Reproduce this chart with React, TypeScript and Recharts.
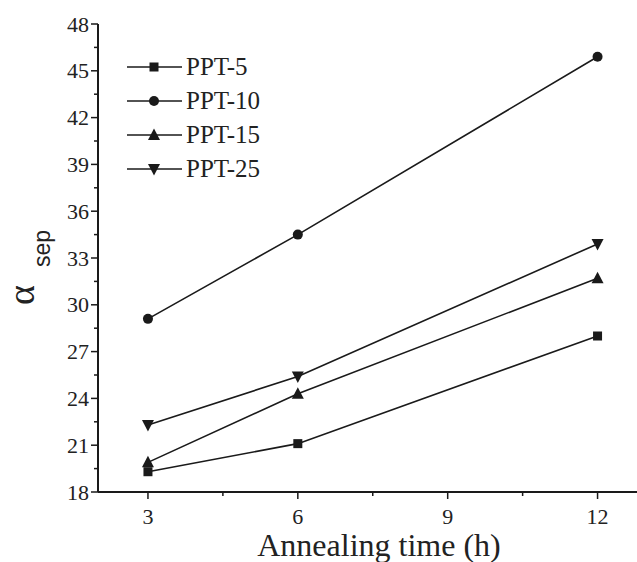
import { LineChart, Line, XAxis, YAxis, Legend } from 'recharts'

const hours = [3, 6, 12]
const ppt5 = [19.3, 21.1, 28.0]
const ppt10 = [29.1, 34.5, 45.9]
const ppt15 = [19.9, 24.3, 31.7]
const ppt25 = [22.3, 25.4, 33.9]

const xTicks = [3, 4.5, 6, 7.5, 9, 10.5, 12]
const xLabels = [3, 6, 9, 12]
const yTicks = [18, 19.5, 21, 22.5, 24, 25.5, 27, 28.5, 30, 31.5, 33, 34.5, 36, 37.5, 39, 40.5, 42, 43.5, 45, 46.5, 48]
const yLabels = [18, 21, 24, 27, 30, 33, 36, 39, 42, 45, 48]

const data = hours.map((h, i) => ({
  h,
  ppt5: ppt5[i],
  ppt10: ppt10[i],
  ppt15: ppt15[i],
  ppt25: ppt25[i],
}))

const INK = '#1a1a1a'
const SERIF = '"Liberation Serif", "Times New Roman", serif'

const series = [
  { key: 'ppt5', name: 'PPT-5', shape: 'square' },
  { key: 'ppt10', name: 'PPT-10', shape: 'circle' },
  { key: 'ppt15', name: 'PPT-15', shape: 'up' },
  { key: 'ppt25', name: 'PPT-25', shape: 'down' },
]

const Marker = ({ cx, cy, shape }: any) => {
  if (cx == null || cy == null) return null
  if (shape === 'square') return <rect x={cx - 4.5} y={cy - 4.5} width={9} height={9} fill={INK} />
  if (shape === 'circle') return <circle cx={cx} cy={cy} r={5} fill={INK} />
  if (shape === 'up')
    return <polygon points={`${cx},${cy - 6.5} ${cx + 6},${cy + 5} ${cx - 6},${cy + 5}`} fill={INK} />
  return <polygon points={`${cx},${cy + 6.5} ${cx + 6},${cy - 5} ${cx - 6},${cy - 5}`} fill={INK} />
}

const XTick = ({ x, y, payload }: any) => {
  const major = xLabels.includes(payload.value)
  return (
    <g>
      <line x1={x} x2={x} y1={y} y2={y + (major ? 7 : 4)} stroke={INK} strokeWidth={1.5} />
      {major && (
        <text x={x} y={y + 32} textAnchor="middle" fontFamily={SERIF} fontSize={22} fill="#222">
          {payload.value}
        </text>
      )}
    </g>
  )
}

const YTick = ({ x, y, payload }: any) => {
  const major = yLabels.includes(payload.value)
  return (
    <g>
      <line x1={x} x2={x - (major ? 7 : 4)} y1={y} y2={y} stroke={INK} strokeWidth={1.5} />
      {major && (
        <text x={x - 9} y={y + 7.5} textAnchor="end" fontFamily={SERIF} fontSize={22} fill="#222">
          {payload.value}
        </text>
      )}
    </g>
  )
}

const YTitle = () => (
  <g fill="#222">
    <text transform="translate(34,305) rotate(-90)" fontFamily={SERIF} fontSize={38}>
      α
    </text>
    <text transform="translate(50,267) rotate(-90)" fontFamily='"Liberation Sans", Arial, sans-serif' fontSize={23}>
      sep
    </text>
  </g>
)

const XTitle = ({ viewBox }: any) => (
  <text
    x={viewBox.x + viewBox.width / 2}
    y={556}
    textAnchor="middle"
    fontFamily={SERIF}
    fontSize={32}
    fill="#222"
  >
    Annealing time (h)
  </text>
)

const LegendBox = () => (
  <div style={{ fontFamily: SERIF, fontSize: 25, color: '#222' }}>
    {series.map((s) => (
      <div key={s.key} style={{ display: 'flex', alignItems: 'center', height: 34 }}>
        <svg width={59} height={20} style={{ display: 'block' }}>
          <line x1={0} x2={55} y1={10} y2={10} stroke={INK} strokeWidth={1.6} />
          <Marker cx={27} cy={10} shape={s.shape} />
        </svg>
        <span>{s.name}</span>
      </div>
    ))}
  </div>
)

export default function App() {
  return (
    <div style={{ position: 'absolute', left: 0, top: 0, width: 637, height: 562, overflow: 'hidden', background: '#fff' }}>
      <LineChart width={662} height={562} data={data} margin={{ top: 24, right: 2, bottom: 0, left: 0 }}>
        <XAxis
          dataKey="h"
          type="number"
          domain={[2, 13.25]}
          ticks={xTicks}
          interval={0}
          height={70}
          tickSize={0}
          tickMargin={0}
          tickLine={false}
          axisLine={{ stroke: INK, strokeWidth: 2 }}
          tick={<XTick />}
          label={<XTitle />}
        />
        <XAxis
          xAxisId="top"
          orientation="top"
          type="number"
          domain={[2, 13.25]}
          height={0}
          tick={false}
          tickLine={false}
          axisLine={{ stroke: INK, strokeWidth: 2 }}
        />
        <YAxis
          type="number"
          domain={[18, 48]}
          ticks={yTicks}
          interval={0}
          width={98}
          tickSize={0}
          tickMargin={0}
          tickLine={false}
          axisLine={{ stroke: INK, strokeWidth: 2 }}
          tick={<YTick />}
          label={<YTitle />}
        />
        <Legend
          layout="vertical"
          align="center"
          verticalAlign="middle"
          content={<LegendBox />}
          wrapperStyle={{ position: 'absolute', left: 127, top: 50, width: 'auto' }}
        />
        {series.map((s) => (
          <Line
            key={s.key}
            dataKey={s.key}
            name={s.name}
            stroke={INK}
            strokeWidth={1.6}
            dot={(p: any) => <Marker key={`${s.key}-${p.index}`} cx={p.cx} cy={p.cy} shape={s.shape} />}
            activeDot={false}
            isAnimationActive={false}
          />
        ))}
      </LineChart>
    </div>
  )
}
